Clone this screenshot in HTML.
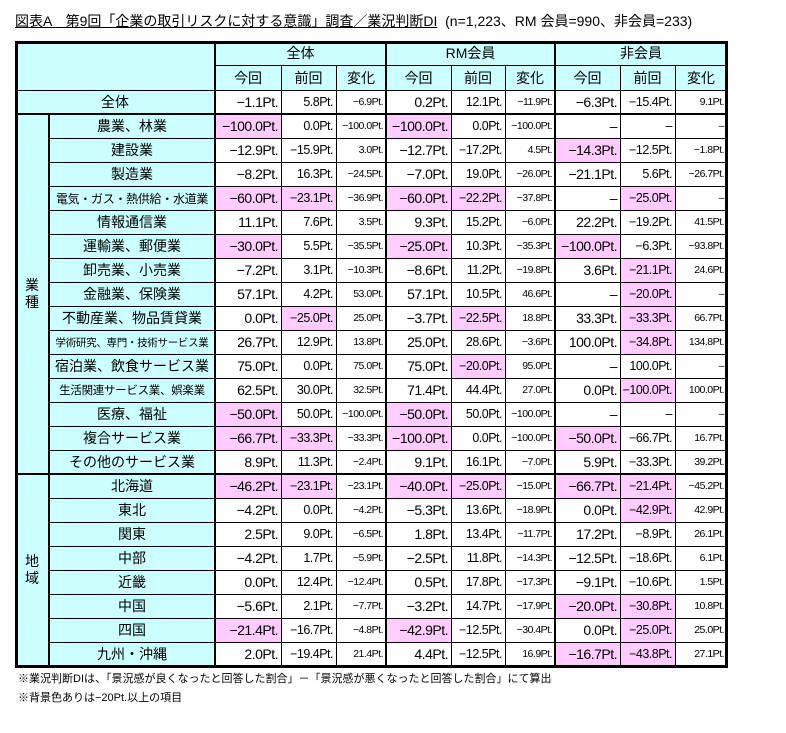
<!DOCTYPE html>
<html><head><meta charset="utf-8">
<style>
body{margin:0;background:#fff;width:786px;height:733px;overflow:hidden;position:relative;font-family:"Liberation Sans","Noto Sans CJK JP",sans-serif;color:#000}
.c{position:absolute;box-sizing:border-box;display:flex;align-items:center;white-space:nowrap;overflow:hidden}
.ln{position:absolute;background:#000}
#title{position:absolute;left:15px;top:11px;font-size:14px;}
#title u{text-decoration:underline}
.note{position:absolute;left:18px;font-size:11px}
</style></head><body>
<div id="title"><u>図表A　第9回「企業の取引リスクに対する意識」調査／業況判断DI</u>&nbsp; (n=1,223、RM 会員=990、非会員=233)</div>
<div id="tbl"></div>
<div class="note" style="top:670px">※業況判断DIは、「景況感が良くなったと回答した割合」－「景況感が悪くなったと回答した割合」にて算出</div>
<div class="note" style="top:689px">※背景色ありは−20Pt.以上の項目</div>
<script>
const groups=["全体","RM会員","非会員"];
const subHeads=["今回","前回","変化"];
const rowLabels=["農業、林業","建設業","製造業","電気・ガス・熱供給・水道業","情報通信業","運輸業、郵便業","卸売業、小売業","金融業、保険業","不動産業、物品賃貸業","学術研究、専門・技術サービス業","宿泊業、飲食サービス業","生活関連サービス業、娯楽業","医療、福祉","複合サービス業","その他のサービス業","北海道","東北","関東","中部","近畿","中国","四国","九州・沖縄"];
const totalRow=["-1.1","5.8","-6.9","0.2","12.1","-11.9","-6.3","-15.4","9.1"];
// '*' marks pink-highlighted cells; '–' = no data
const rowValues=[
["-100.0*","0.0","-100.0","-100.0*","0.0","-100.0","–","–","–"],
["-12.9","-15.9","3.0","-12.7","-17.2","4.5","-14.3*","-12.5","-1.8"],
["-8.2","16.3","-24.5","-7.0","19.0","-26.0","-21.1","5.6","-26.7"],
["-60.0*","-23.1*","-36.9","-60.0*","-22.2*","-37.8","–","-25.0*","–"],
["11.1","7.6","3.5","9.3","15.2","-6.0","22.2","-19.2","41.5"],
["-30.0*","5.5","-35.5","-25.0*","10.3","-35.3","-100.0*","-6.3","-93.8"],
["-7.2","3.1","-10.3","-8.6","11.2","-19.8","3.6","-21.1*","24.6"],
["57.1","4.2","53.0","57.1","10.5","46.6","–","-20.0*","–"],
["0.0","-25.0*","25.0","-3.7","-22.5*","18.8","33.3","-33.3*","66.7"],
["26.7","12.9","13.8","25.0","28.6","-3.6","100.0","-34.8*","134.8"],
["75.0","0.0","75.0","75.0","-20.0*","95.0","–","100.0","–"],
["62.5","30.0","32.5","71.4","44.4","27.0","0.0","-100.0*","100.0"],
["-50.0*","50.0","-100.0","-50.0*","50.0","-100.0","–","–","–"],
["-66.7*","-33.3*","-33.3","-100.0*","0.0","-100.0","-50.0*","-66.7","16.7"],
["8.9","11.3","-2.4","9.1","16.1","-7.0","5.9","-33.3","39.2"],
["-46.2*","-23.1*","-23.1","-40.0*","-25.0*","-15.0","-66.7*","-21.4*","-45.2"],
["-4.2","0.0","-4.2","-5.3","13.6","-18.9","0.0","-42.9*","42.9"],
["2.5","9.0","-6.5","1.8","13.4","-11.7","17.2","-8.9","26.1"],
["-4.2","1.7","-5.9","-2.5","11.8","-14.3","-12.5","-18.6","6.1"],
["0.0","12.4","-12.4","0.5","17.8","-17.3","-9.1","-10.6","1.5"],
["-5.6","2.1","-7.7","-3.2","14.7","-17.9","-20.0*","-30.8*","10.8"],
["-21.4*","-16.7","-4.8","-42.9*","-12.5","-30.4","0.0","-25.0*","25.0"],
["2.0","-19.4","21.4","4.4","-12.5","16.9","-16.7*","-43.8*","27.1"]
];
const sections=["業種","地域"];
const sectionSizes=[15,8];

const T=document.getElementById('tbl');
const colX=[215,281,336,386,451,505,555,620,675,727];
const L=15,R=727,top0=41,h1=65,h2=90,h3=114,rowH=24;
const CY="#ccffff",PK="#ffccff";
function cell(x,y,w,h,txt,bg,opt){
  const d=document.createElement('div');d.className='c';
  d.style.left=x+'px';d.style.top=y+'px';d.style.width=w+'px';d.style.height=h+'px';
  if(bg)d.style.background=bg;
  d.style.justifyContent=opt.align||'center';
  d.style.fontSize=(opt.fs||14)+'px';
  if(opt.pr)d.style.paddingRight=opt.pr+'px';
  if(opt.ls)d.style.letterSpacing=opt.ls+'px';
  if(opt.vert){d.style.flexDirection='column';d.style.lineHeight='1.25';}
  if(opt.vert){txt.split('').forEach(ch=>{const s=document.createElement('span');s.textContent=ch;d.appendChild(s);});}
  else d.textContent=txt;
  T.appendChild(d);return d;
}
function line(x,y,w,h){const d=document.createElement('div');d.className='ln';d.style.left=x+'px';d.style.top=y+'px';d.style.width=w+'px';d.style.height=h+'px';T.appendChild(d);

}
function fmt(v){if(v==='–')return '–';return v.replace('-','−')+'Pt.';}
const fsCols=[14,12.5,10.5];
const bottom=h3+rowLabels.length*rowH;
let d;
d=cell(L,top0,colX[0]-L,h3-top0,'',CY,{});


d=cell(L,h3,colX[0]-L,bottom-h3,'',CY,{});


groups.forEach((g,i)=>{
  d=cell(colX[i*3],top0,colX[i*3+3]-colX[i*3],h1-top0,g,CY,{fs:14});
  
  
  subHeads.forEach((s,j)=>{
    const c=i*3+j;
    d=cell(colX[c],h1,colX[c+1]-colX[c],h2-h1,s,CY,{fs:14});
    
    
  });
});
d=cell(L,h2,colX[0]-L,h3-h2,'全体',CY,{fs:14});


totalRow.forEach((v,c)=>{
  d=cell(colX[c],h2,colX[c+1]-colX[c],h3-h2,fmt(v),'#fff',{fs:fsCols[c%3],align:'flex-end',pr:3,ls:-0.5});
  
  
});
const labFs={3:12,9:10.5,11:11.5};
let sy=h3;
sections.forEach((s,k)=>{
  const hh=sectionSizes[k]*rowH;
  d=cell(L,sy,49-L,hh,s,CY,{fs:14,vert:true});
  
  
  sy+=hh;
});
rowLabels.forEach((lab,r)=>{
  const y=h3+r*rowH;
  d=cell(49,y,colX[0]-49,rowH,lab,CY,{fs:labFs[r]||14,ls:labFs[r]?-0.3:0});
  
  
  rowValues[r].forEach((v,c)=>{
    const pink=v.endsWith('*');const val=v.replace('*','');
    d=cell(colX[c],y,colX[c+1]-colX[c],rowH,fmt(val),pink?PK:'#fff',{fs:fsCols[c%3],align:'flex-end',pr:3,ls:-0.5});
    
    
  });
});
line(L,top0,R-L,3);line(L,bottom-1,R-L,3);line(L,top0,3,bottom-top0+2);line(R-2,top0,3,bottom-top0+2);
line(colX[0],h1,R-colX[0],1);line(L,h2,R-L,1);line(L,h3-1,R-L,2);
for(let r=1;r<rowLabels.length;r++){const y=h3+r*rowH;
  if(r===15)line(L,y-1,R-L,2);else line(49,y,R-49,1);}
line(48,h3,2,bottom-h3);
colX.slice(0,9).forEach((x,i)=>{
  if(i%3===0)line(x-1,top0,2,bottom-top0);
  else line(x,h1,1,bottom-h1);
});
</script>
</body></html>
